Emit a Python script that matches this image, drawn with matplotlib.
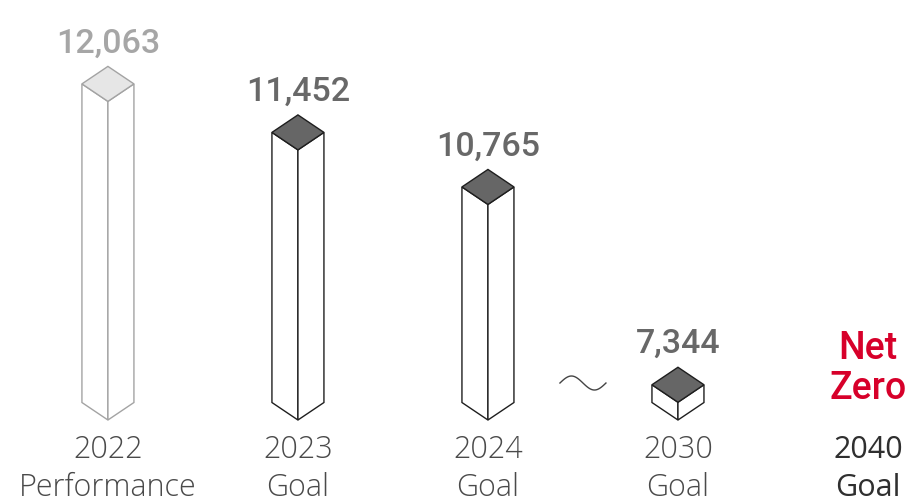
import numpy as np
import matplotlib
matplotlib.use("Agg")
import matplotlib.pyplot as plt
from matplotlib.patches import Polygon
from matplotlib.lines import Line2D
from matplotlib.transforms import IdentityTransform, offset_copy

# ---- data ----
years = ["2022", "2023", "2024", "2030", "2040"]
kinds = ["Performance", "Goal", "Goal", "Goal", "Goal"]
values = [12063, 11452, 10765, 7344]
target_text = "Net\nZero"

# ---- broken value scale: compressed below the break ----
BASE = 7000      # where the columns stand
BREAK = 10000    # below this the axis is compressed
LOW = 0.65


def fwd(v):
    v = np.asarray(v, dtype=float)
    return np.where(v < BREAK, (v - BREAK) * LOW, v - BREAK)


def inv(t):
    t = np.asarray(t, dtype=float)
    return np.where(t < 0, BREAK + t / LOW, BREAK + t)


W, H = 913, 503
fig = plt.figure(figsize=(W / 100, H / 100), dpi=100)
ax = fig.add_axes([0, 0, 1, 1])
ax.set_xlim(-0.568, 4.237)
ax.set_yscale("function", functions=(fwd, inv))
ax.set_ylim(5392, 13340)
ax.axis("off")

HW = 26      # half width of a column face (px)
HD = 17.5    # half depth of the top rhombus (px)

VALUE_FONT = "Roboto"
LABEL_FONT = "Open Sans"

styles = [
    dict(edge="#a3a3a3", top="#e6e6e6", text="#a6a6a6"),
    dict(edge="#1e1e1e", top="#666666", text="#686868"),
    dict(edge="#1e1e1e", top="#666666", text="#686868"),
    dict(edge="#1e1e1e", top="#666666", text="#686868"),
]

ident = IdentityTransform()
for i, (v, st) in enumerate(zip(values, styles)):
    px, py = ax.transData.transform((i, v))
    _, by = ax.transData.transform((i, BASE))
    top = [(px, py), (px - HW, py + HD), (px, py + 2 * HD), (px + HW, py + HD)]
    left = [(px - HW, py + HD), (px, py), (px, by), (px - HW, by + HD)]
    right = [(px + HW, py + HD), (px, py), (px, by), (px + HW, by + HD)]
    for pts, fc in ((left, "white"), (right, "white"), (top, st["top"])):
        ax.add_patch(Polygon(pts, closed=True, transform=ident, facecolor=fc,
                             edgecolor=st["edge"], linewidth=1.0,
                             joinstyle="miter"))
    tr = offset_copy(ax.transData, fig=fig, y=2 * HD + 14, units="dots")
    ax.text(i, v, f"{v:,}", transform=tr, ha="center", va="baseline",
            fontsize=24.5, fontweight="medium", family=VALUE_FONT,
            color=st["text"])

# category labels under the columns
for i, (yr, kd) in enumerate(zip(years, kinds)):
    last = i == len(years) - 1
    color = "#2f2f2f" if last else "#4a4a4a"
    weight = "normal" if last else "light"
    tr1 = offset_copy(ax.transData, fig=fig, y=-38, units="dots")
    tr2 = offset_copy(ax.transData, fig=fig, y=-76, units="dots")
    ax.text(i, BASE, yr, transform=tr1, ha="center", va="baseline",
            fontsize=22, fontweight=weight, family=LABEL_FONT, color=color)
    ax.text(i, BASE, kd, transform=tr2, ha="center", va="baseline",
            fontsize=22, fontweight=weight, family=LABEL_FONT, color=color)

# 2040 target
tr = offset_copy(ax.transData, fig=fig, y=13, units="dots")
ax.text(4, BASE, target_text, transform=tr, ha="center", va="bottom",
        fontsize=27, fontweight="medium", family=VALUE_FONT, color="#d7002a",
        linespacing=1.1)

# wave mark for the axis break between 2024 and 2030
mx, my = ax.transData.transform((2.5, BASE))
xs = np.linspace(-23, 23, 80)
ys = -7 * np.sin(xs / 23 * np.pi)
ax.add_line(Line2D(mx + xs, my + 37 + ys, transform=ident, color="#444444",
                   linewidth=1.0))

fig.savefig("out.png", dpi=100)
